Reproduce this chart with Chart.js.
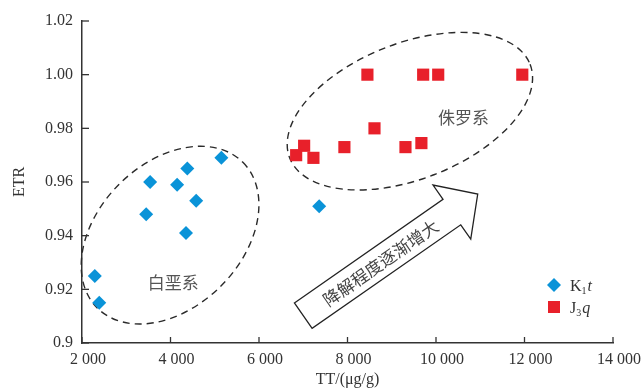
<!DOCTYPE html>
<html><head><meta charset="utf-8">
<script src="https://cdn.jsdelivr.net/npm/chart.js@4.4.0/dist/chart.umd.min.js"></script>
<style>html,body{margin:0;padding:0;background:#fff;}#wrap{width:643px;height:391px;}</style>
</head><body><div id="wrap"><canvas id="c" width="643" height="391"></canvas></div>
<script>
// ---- data ----
const seriesNames = ['K1t', 'J3q'];
const k1tX = [2290, 2390, 3450, 3540, 4150, 4380, 4580, 4350, 5150, 7360];
const k1tY = [0.925, 0.915, 0.948, 0.960, 0.959, 0.965, 0.953, 0.941, 0.969, 0.951];
const j3qX = [8450, 9710, 10050, 11950, 8610, 7930, 7020, 6840, 7230, 9310, 9670];
const j3qY = [1.000, 1.000, 1.000, 1.000, 0.980, 0.973, 0.9735, 0.970, 0.969, 0.973, 0.9745];
const xTickLabels = ['2 000', '4 000', '6 000', '8 000', '10 000', '12 000', '14 000'];
const yTickLabels = ['0.9', '0.92', '0.94', '0.96', '0.98', '1.00', '1.02'];
const xTitle = 'TT/(\u03bcg/g)';
const yTitle = 'ETR';
const groupLabels = ['白垩系', '侏罗系'];
const arrowLabel = '降解程度逐渐增大';

// ---- annotation geometry (data-space anchors, pixel sizes) ----
const ellipses = [
  { cx: 3990, cy: 0.9402, rx: 103, ry: 72, rot: -45 },
  { cx: 9410, cy: 0.9864, rx: 129, ry: 68, rot: -21.3 }
];
const groupLabelPos = [ { x: 4060, y: 0.9227 }, { x: 10620, y: 0.9842 } ];
const arrowTail = { x: 7000, y: 0.9102 };
const arrowTip = { x: 10943, y: 0.9555 };

const BLUE = '#0a93d8', RED = '#e8202a', AX = '#333333';
const SERIF = '"Liberation Serif", "Times New Roman", serif';
const CJK = '"Noto Sans CJK SC", sans-serif';

const annot = {
  id: 'annot',
  beforeDatasetsDraw(chart) {
    const { ctx, scales: { x, y } } = chart;
    ctx.save();
    ctx.setLineDash([7, 5]);
    ctx.lineWidth = 1.4;
    ctx.strokeStyle = '#2a2a2a';
    ellipses.forEach(e => {
      ctx.beginPath();
      ctx.ellipse(x.getPixelForValue(e.cx), y.getPixelForValue(e.cy), e.rx, e.ry, e.rot * Math.PI / 180, 0, Math.PI * 2);
      ctx.stroke();
    });
    ctx.restore();
  },
  afterDatasetsDraw(chart) {
    const { ctx, scales: { x, y }, chartArea } = chart;
    ctx.save();
    // inward ticks
    ctx.strokeStyle = AX; ctx.lineWidth = 1.3;
    x.ticks.forEach(t => {
      const px = x.getPixelForValue(t.value);
      ctx.beginPath(); ctx.moveTo(px, chartArea.bottom); ctx.lineTo(px, chartArea.bottom - 6); ctx.stroke();
    });
    y.ticks.forEach(t => {
      const py = y.getPixelForValue(t.value);
      ctx.beginPath(); ctx.moveTo(chartArea.left, py); ctx.lineTo(chartArea.left + 7, py); ctx.stroke();
    });

    // group labels
    ctx.fillStyle = '#555';
    ctx.font = '17px ' + CJK;
    ctx.textAlign = 'center'; ctx.textBaseline = 'middle';
    groupLabels.forEach((s, i) => {
      ctx.fillText(s, x.getPixelForValue(groupLabelPos[i].x), y.getPixelForValue(groupLabelPos[i].y));
    });

    // arrow
    const x0 = x.getPixelForValue(arrowTail.x), y0 = y.getPixelForValue(arrowTail.y);
    const x1 = x.getPixelForValue(arrowTip.x), y1 = y.getPixelForValue(arrowTip.y);
    const L = Math.hypot(x1 - x0, y1 - y0);
    const ang = Math.atan2(y1 - y0, x1 - x0);
    const bw = 15.5, hw = 33, hl = 31.5;
    ctx.translate(x0, y0); ctx.rotate(ang);
    ctx.beginPath();
    ctx.moveTo(0, -bw);
    ctx.lineTo(L - hl, -bw);
    ctx.lineTo(L - hl, -hw);
    ctx.lineTo(L, 0);
    ctx.lineTo(L - hl, hw);
    ctx.lineTo(L - hl, bw);
    ctx.lineTo(0, bw);
    ctx.closePath();
    ctx.fillStyle = '#fff'; ctx.fill();
    ctx.strokeStyle = '#222'; ctx.lineWidth = 1.3; ctx.stroke();
    ctx.fillStyle = '#444';
    ctx.font = '17px ' + CJK;
    ctx.textAlign = 'center'; ctx.textBaseline = 'middle';
    ctx.fillText(arrowLabel, (L - hl) / 2 + 3, 1);
    ctx.setTransform(1, 0, 0, 1, 0, 0);

    // legend
    const lx = chartArea.right - 59, ly1 = chartArea.bottom - 58, ly2 = ly1 + 22;
    ctx.fillStyle = BLUE;
    ctx.beginPath(); ctx.moveTo(lx, ly1 - 7); ctx.lineTo(lx + 7, ly1); ctx.lineTo(lx, ly1 + 7); ctx.lineTo(lx - 7, ly1); ctx.closePath(); ctx.fill();
    ctx.fillStyle = RED;
    ctx.fillRect(lx - 6, ly2 - 6, 12, 12);
    ctx.fillStyle = '#333'; ctx.textAlign = 'left'; ctx.textBaseline = 'alphabetic';
    const drawName = (name, tx, ty) => {
      ctx.font = '16px ' + SERIF;
      ctx.fillText(name[0], tx, ty);
      let w = ctx.measureText(name[0]).width;
      ctx.font = '10px ' + SERIF;
      ctx.fillText(name[1], tx + w, ty + 3);
      w += ctx.measureText(name[1]).width + 1;
      ctx.font = 'italic 16px ' + SERIF;
      ctx.fillText(name[2], tx + w, ty);
    };
    drawName(seriesNames[0], lx + 16, ly1 + 6);
    drawName(seriesNames[1], lx + 16, ly2 + 6);
    ctx.restore();
  }
};

new Chart(document.getElementById('c'), {
  type: 'scatter',
  data: {
    datasets: [
      { label: seriesNames[0], data: k1tX.map((v, i) => ({ x: v, y: k1tY[i] })), pointStyle: 'rectRot', pointRadius: 7, pointHoverRadius: 7, backgroundColor: BLUE, borderWidth: 0 },
      { label: seriesNames[1], data: j3qX.map((v, i) => ({ x: v, y: j3qY[i] })), pointStyle: 'rect', pointRadius: 8.6, pointHoverRadius: 8.6, backgroundColor: RED, borderWidth: 0 }
    ]
  },
  options: {
    responsive: false,
    animation: false,
    devicePixelRatio: 1,
    layout: { padding: { top: 21, right: 30, left: 0, bottom: 0 } },
    plugins: { legend: { display: false }, tooltip: { enabled: false } },
    scales: {
      x: {
        type: 'linear', min: 2000, max: 14000,
        afterFit(s) { s.height = 48; },
        grid: { display: false, drawTicks: false },
        border: { display: true, color: AX, width: 1.5 },
        ticks: { stepSize: 2000, padding: 7, labelOffset: 6, color: '#333', font: { family: SERIF, size: 16 },
          callback: (v, i) => xTickLabels[i] },
        title: { display: true, text: xTitle, color: '#333', font: { family: SERIF, size: 16 }, padding: { top: 0, bottom: 2 } }
      },
      y: {
        type: 'linear', min: 0.9, max: 1.02,
        afterFit(s) { s.width = 82; },
        grid: { display: false, drawTicks: false },
        border: { display: true, color: AX, width: 1.5 },
        ticks: { stepSize: 0.02, padding: 9, color: '#333', font: { family: SERIF, size: 16 },
          callback: (v, i) => yTickLabels[i] },
        title: { display: true, text: yTitle, color: '#333', font: { family: SERIF, size: 16 }, padding: { top: 10, bottom: 0 } }
      }
    }
  },
  plugins: [annot]
});
</script>
</body></html>
